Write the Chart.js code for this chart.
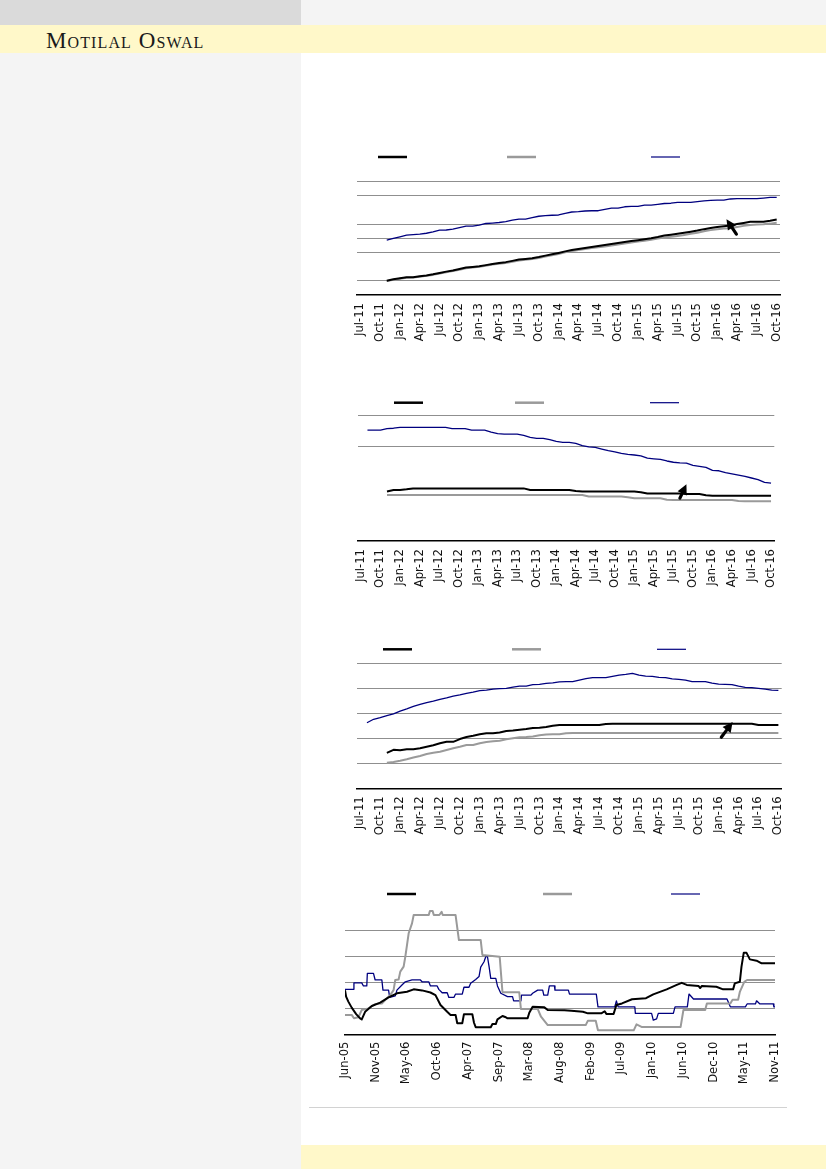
<!DOCTYPE html>
<html><head><meta charset="utf-8">
<script src="https://cdn.jsdelivr.net/npm/chart.js@4/dist/chart.umd.min.js"></script>
<style>
html,body{margin:0;padding:0;}
body{width:826px;height:1169px;position:relative;background:#fff;overflow:hidden;}
#side{position:absolute;left:0;top:0;width:301px;height:1169px;background:#f4f4f4;}
#topL{position:absolute;left:0;top:0;width:301px;height:25px;background:#dadada;}
#topR{position:absolute;left:301px;top:0;width:525px;height:25px;background:#f4f4f4;}
#band{position:absolute;left:0;top:25px;width:826px;height:28px;background:#fff8c9;}
#brand{position:absolute;left:46px;top:29.5px;line-height:22px;font-family:'Liberation Serif',serif;font-variant:small-caps;font-size:23px;color:#1a1a1a;letter-spacing:1.1px;white-space:nowrap;}
#foot{position:absolute;left:301px;top:1145px;width:525px;height:24px;background:#fff8c9;}
#rule{position:absolute;left:309px;top:1107px;width:478px;height:1px;background:#d2d2d2;}
canvas{position:absolute;}
</style></head>
<body>
<div id="side"></div><div id="topL"></div><div id="topR"></div>
<div id="band"></div><div id="brand">Motilal Oswal</div>
<div id="foot"></div><div id="rule"></div>
<canvas id="c1"></canvas><canvas id="c2"></canvas><canvas id="c3"></canvas><canvas id="c4"></canvas>
<script>
// ---------- DATA ----------
const MONTH_ABBR = ['Jan','Feb','Mar','Apr','May','Jun','Jul','Aug','Sep','Oct','Nov','Dec'];
// monthly categories Jul-11 .. Oct-16 (64 months)
const months = [];
for (let k = 0; k < 64; k++) { const mm = (6 + k) % 12, yy = 11 + Math.floor((6 + k) / 12); months.push(MONTH_ABBR[mm] + '-' + String(yy).padStart(2,'0')); }

// Chart 1
const c1Black = [null,null,null,null,
 1.01,1.11,1.18,1.25,1.25,1.33,1.38,1.46,1.56,1.65,
 1.73,1.83,1.94,1.98,2.03,2.11,2.19,2.26,2.32,2.41,
 2.50,2.55,2.60,2.68,2.78,2.87,2.97,3.08,3.17,3.25,
 3.32,3.39,3.46,3.53,3.60,3.67,3.74,3.81,3.87,3.93,
 4.00,4.09,4.20,4.26,4.32,4.39,4.47,4.55,4.65,4.73,
 4.80,4.85,4.91,5.01,5.09,5.17,5.17,5.17,5.24,5.33];
const c1Gray = [null,null,null,null,
 0.98,1.07,1.14,1.21,1.23,1.29,1.35,1.42,1.52,1.61,
 1.69,1.79,1.89,1.94,1.99,2.07,2.15,2.20,2.26,2.35,
 2.43,2.49,2.54,2.62,2.71,2.80,2.90,3.01,3.10,3.18,
 3.25,3.32,3.37,3.43,3.50,3.57,3.64,3.71,3.77,3.83,
 3.90,3.98,4.06,4.11,4.17,4.24,4.32,4.40,4.50,4.58,
 4.65,4.70,4.72,4.80,4.88,4.95,4.98,5.00,5.04,5.10];
const c1Blue = [null,null,null,null,
 3.88,4.00,4.11,4.23,4.27,4.30,4.36,4.46,4.58,4.59,
 4.65,4.76,4.86,4.87,4.94,5.05,5.08,5.12,5.18,5.29,
 5.36,5.36,5.46,5.56,5.60,5.63,5.65,5.77,5.86,5.88,
 5.93,5.95,5.95,6.04,6.14,6.14,6.23,6.26,6.26,6.34,
 6.35,6.40,6.46,6.48,6.54,6.54,6.54,6.60,6.65,6.68,
 6.70,6.70,6.78,6.80,6.80,6.80,6.80,6.84,6.89,6.89];
const c1Arrow = [56.9, 4.30, 55.4, 5.34];

// Chart 2
const c2Black = [null,null,null,null,
 1.57,1.62,1.62,1.64,1.67,1.67,1.67,1.67,1.67,1.67,
 1.67,1.67,1.67,1.67,1.67,1.67,1.67,1.67,1.67,1.67,
 1.67,1.67,1.62,1.62,1.62,1.62,1.62,1.62,1.62,1.59,
 1.57,1.57,1.57,1.57,1.57,1.57,1.57,1.57,1.57,1.55,
 1.51,1.51,1.51,1.51,1.51,1.51,1.49,1.49,1.49,1.45,
 1.44,1.44,1.44,1.44,1.44,1.44,1.44,1.44,1.44,1.44];
const c2Gray = [null,null,null,null,
 1.46,1.46,1.46,1.46,1.46,1.46,1.46,1.46,1.46,1.46,
 1.46,1.46,1.46,1.46,1.46,1.46,1.46,1.46,1.46,1.46,
 1.46,1.46,1.46,1.46,1.46,1.46,1.46,1.46,1.46,1.46,
 1.46,1.41,1.41,1.41,1.41,1.41,1.41,1.39,1.36,1.36,
 1.36,1.36,1.36,1.31,1.30,1.30,1.30,1.30,1.30,1.30,
 1.30,1.30,1.30,1.30,1.27,1.26,1.26,1.26,1.26,1.26];
const c2Blue = [null,
 3.52,3.52,3.52,3.57,3.58,3.61,3.61,3.61,3.61,3.61,
 3.61,3.61,3.61,3.57,3.57,3.57,3.52,3.52,3.52,3.46,
 3.41,3.39,3.39,3.39,3.35,3.29,3.26,3.26,3.22,3.16,
 3.13,3.13,3.10,3.03,2.99,2.97,2.92,2.87,2.83,2.78,
 2.75,2.73,2.70,2.63,2.61,2.59,2.54,2.50,2.48,2.47,
 2.40,2.37,2.34,2.24,2.23,2.17,2.13,2.09,2.05,2.00,
 1.95,1.86,1.84];
const c2Arrow = [49.0, 1.36, 50.0, 1.80];

// Chart 3
const c3Black = [null,null,null,null,
 1.42,1.54,1.52,1.56,1.56,1.60,1.66,1.72,1.80,1.86,
 1.86,1.97,2.05,2.10,2.16,2.20,2.20,2.23,2.29,2.31,
 2.34,2.37,2.41,2.42,2.45,2.50,2.53,2.53,2.53,2.53,
 2.53,2.53,2.53,2.57,2.58,2.58,2.58,2.58,2.58,2.58,
 2.58,2.58,2.58,2.58,2.58,2.58,2.58,2.58,2.58,2.58,
 2.58,2.58,2.58,2.58,2.58,2.58,2.53,2.53,2.53,2.53];
const c3Gray = [null,null,null,null,
 1.02,1.05,1.10,1.16,1.23,1.29,1.37,1.42,1.46,1.53,
 1.60,1.66,1.73,1.73,1.80,1.85,1.88,1.90,1.96,2.00,
 2.04,2.05,2.07,2.12,2.15,2.16,2.16,2.20,2.21,2.21,
 2.21,2.21,2.21,2.21,2.21,2.21,2.21,2.21,2.21,2.21,
 2.21,2.21,2.21,2.21,2.21,2.21,2.21,2.21,2.21,2.21,
 2.21,2.21,2.21,2.21,2.21,2.21,2.21,2.21,2.21,2.21];
const c3Blue = [null,
 2.62,2.76,2.83,2.91,2.98,3.09,3.18,3.28,3.36,3.43,
 3.49,3.56,3.62,3.69,3.74,3.80,3.85,3.91,3.93,3.97,
 3.99,4.00,4.05,4.09,4.09,4.15,4.16,4.20,4.22,4.26,
 4.27,4.27,4.33,4.39,4.43,4.43,4.43,4.48,4.53,4.56,
 4.60,4.53,4.49,4.48,4.44,4.43,4.38,4.36,4.33,4.27,
 4.27,4.27,4.21,4.17,4.16,4.15,4.09,4.04,4.03,4.00,
 3.97,3.93,3.92];
const c3Arrow = [54.4, 2.04, 56.1, 2.65];

// Chart 4 (x = months after Jun-05, y = value)
const c4Black = [[0,1.72],[0.2,1.47],[0.6,1.28],[1.2,1.05],[2.0,0.8],[2.7,0.64],[3.0,0.6],[3.6,0.89],[4.8,1.11],[6.3,1.24],[7.8,1.44],[9.3,1.60],[11.1,1.66],[12.3,1.75],[13.8,1.71],[15.3,1.63],[16.2,1.53],[17.1,1.15],[18.3,0.89],[18.9,0.77],[19.8,0.77],[20.1,0.45],[21.0,0.45],[21.3,0.8],[22.8,0.8],[23.1,0.47],[23.4,0.30],[26.1,0.30],[26.4,0.42],[27.0,0.42],[27.3,0.60],[28.2,0.73],[28.8,0.68],[29.1,0.64],[32.7,0.64],[33.0,0.85],[33.6,1.08],[35.7,1.06],[36.3,0.96],[39.3,0.95],[40.5,0.93],[42.6,0.89],[43.5,0.83],[45.9,0.83],[46.5,0.91],[46.8,0.81],[48.1,0.81],[48.6,1.15],[49.6,1.21],[51.4,1.37],[53.9,1.41],[55.2,1.56],[57.6,1.75],[59.4,1.92],[60.3,2.0],[61.2,1.92],[63.3,1.88],[63.6,1.80],[63.9,1.88],[66.5,1.85],[67.7,1.75],[69.5,1.75],[69.8,1.98],[70.7,2.04],[71.0,2.62],[71.4,3.15],[71.9,3.15],[72.5,2.90],[73.7,2.85],[74.6,2.75],[77,2.75]];
const c4Gray = [[0,0.77],[1.2,0.77],[1.6,0.64],[2.4,0.68],[3.0,0.96],[4.2,1.02],[5.4,1.19],[6.6,1.21],[7.2,1.34],[8.1,1.53],[8.7,1.72],[9.0,2.11],[9.6,2.13],[9.9,2.43],[10.5,2.62],[10.8,3.0],[11.1,3.45],[11.4,3.9],[12.0,4.28],[12.3,4.6],[15.0,4.6],[15.2,4.75],[15.7,4.75],[15.9,4.6],[16.9,4.6],[17.3,4.72],[17.5,4.6],[19.8,4.6],[20.4,3.64],[24.3,3.64],[24.6,3.07],[27.7,3.0],[28.2,1.64],[31.2,1.64],[31.5,1.0],[34.5,1.0],[35.1,0.7],[36.3,0.38],[43.1,0.38],[43.5,0.55],[44.9,0.55],[45.3,0.18],[51.7,0.18],[52.2,0.41],[53.1,0.31],[60.1,0.31],[60.6,0.96],[64.5,0.96],[64.8,1.21],[69.0,1.21],[69.4,1.35],[70.4,1.35],[70.7,1.65],[71.5,2.04],[72.0,2.11],[77,2.11]];
const c4Blue = [[0,1.75],[1.5,1.75],[1.6,2.0],[3.0,2.0],[3.3,1.88],[3.9,1.88],[4.0,2.36],[5.1,2.36],[5.4,2.11],[6.6,2.11],[6.8,1.72],[7.8,1.72],[8.0,1.44],[9.0,1.50],[9.3,1.72],[10.2,1.92],[10.8,2.04],[12.0,2.11],[13.5,2.11],[13.8,2.04],[15.0,2.04],[15.3,1.88],[16.5,1.88],[16.8,1.75],[17.4,1.62],[18.3,1.62],[18.6,1.44],[19.5,1.44],[19.8,1.57],[21.0,1.57],[21.3,1.83],[22.2,1.83],[22.5,1.98],[23.4,2.13],[24.0,2.24],[24.3,2.6],[24.9,2.81],[25.2,3.0],[25.5,3.02],[25.8,2.62],[26.1,2.17],[27.0,2.17],[27.3,1.88],[27.9,1.60],[29.1,1.47],[30.0,1.47],[30.2,1.31],[31.5,1.31],[31.6,1.53],[33.3,1.53],[33.6,1.60],[34.5,1.72],[35.4,1.72],[35.6,1.53],[36.3,1.53],[36.6,1.88],[37.5,1.88],[37.6,1.72],[40.0,1.72],[40.2,1.57],[45.0,1.57],[45.3,1.08],[48.3,1.08],[48.6,1.31],[48.9,1.08],[51.9,1.08],[52.0,0.83],[54.9,0.83],[55.2,0.57],[55.8,0.62],[56.1,0.83],[58.8,0.83],[59.1,1.08],[61.3,1.08],[61.6,1.57],[62.4,1.38],[68.4,1.38],[69.0,1.08],[71.7,1.08],[72.0,1.19],[73.5,1.19],[73.7,1.31],[74.3,1.19],[76.7,1.19],[76.8,1.08],[77,1.08]];
const c4TickStep = 5.5;   // months between x labels
const c4Start = {year: 2005, month: 5}; // Jun-05

// ---------- STYLES ----------
const BLACK = '#000000', GRAY = '#9a9a9a', BLUE = '#00007f', GRID = '#8f8f8f';

// ---------- PLUGINS ----------
const lineLegend = {
  id: 'lineLegend',
  afterDraw(chart, args, o) {
    if (!o.offsets) return;
    const ctx = chart.ctx, a = chart.chartArea;
    ctx.save();
    chart.data.datasets.forEach((ds, k) => {
      const x = a.left + o.offsets[k], y = a.top - o.dy;
      ctx.beginPath();
      ctx.strokeStyle = ds.borderColor;
      ctx.lineWidth = o.widths[k];
      ctx.moveTo(x, y); ctx.lineTo(x + o.len, y);
      ctx.stroke();
    });
    ctx.restore();
  }
};
const arrowNote = {
  id: 'arrowNote',
  afterDatasetsDraw(chart, args, o) {
    if (!o.pts) return;
    const xs = chart.scales.x, ys = chart.scales.y, ctx = chart.ctx;
    const x1 = xs.getPixelForValue(o.pts[0]), y1 = ys.getPixelForValue(o.pts[1]);
    const x2 = xs.getPixelForValue(o.pts[2]), y2 = ys.getPixelForValue(o.pts[3]);
    const ang = Math.atan2(y2 - y1, x2 - x1), hl = 10, hw = 5;
    const bx = x2 - hl * Math.cos(ang), by = y2 - hl * Math.sin(ang);
    ctx.save();
    ctx.strokeStyle = '#000'; ctx.fillStyle = '#000'; ctx.lineWidth = 3.2; ctx.lineCap = 'round';
    ctx.beginPath(); ctx.moveTo(x1, y1); ctx.lineTo(bx, by); ctx.stroke();
    ctx.beginPath();
    ctx.moveTo(x2, y2);
    ctx.lineTo(bx + hw * Math.sin(ang), by - hw * Math.cos(ang));
    ctx.lineTo(bx - hw * Math.sin(ang), by + hw * Math.cos(ang));
    ctx.closePath(); ctx.fill();
    ctx.restore();
  }
};

// ---------- BUILD ----------
const CANVAS_LEFT = 300, CANVAS_W = 526;
function build(id, geo, data, xScale, yMax, hidden, legendOpts, arrow, tickGap, tickSize) {
  const cv = document.getElementById(id);
  const top = Math.floor(geo.top - 50), bottom = Math.ceil(geo.bottom + 60);
  const H = bottom - top;
  cv.width = CANVAS_W; cv.height = H;
  cv.style.left = CANVAS_LEFT + 'px'; cv.style.top = top + 'px';
  cv.style.width = CANVAS_W + 'px'; cv.style.height = H + 'px';
  const xH = H - (geo.bottom - top);
  xScale.grid = {display: false, drawTicks: false};
  xScale.border = {display: true, color: '#000', width: 1.5};
  xScale.ticks = Object.assign({autoSkip: false, maxRotation: 90, minRotation: 90, padding: tickGap,
    font: {family: 'DejaVu Sans', size: tickSize}, color: '#111'}, xScale.ticks || {});
  xScale.afterFit = s => { s.height = xH; s.paddingLeft = 0; s.paddingRight = 0; };
  new Chart(cv, {
    type: 'line',
    data: data,
    options: {
      responsive: false, animation: false, devicePixelRatio: 1,
      layout: {padding: {left: geo.left - CANVAS_LEFT, right: CANVAS_LEFT + CANVAS_W - geo.right, top: geo.top - top, bottom: 0}},
      plugins: {legend: {display: false}, tooltip: {enabled: false}, lineLegend: legendOpts, arrowNote: {pts: arrow}},
      elements: {point: {radius: 0}, line: {tension: 0, borderJoinStyle: 'round'}},
      scales: {
        x: xScale,
        y: {min: 0, max: yMax, ticks: {display: false, stepSize: 1},
            grid: {drawTicks: false, lineWidth: 1, color: c => hidden.includes(c.tick.value) ? 'rgba(0,0,0,0)' : GRID},
            border: {display: false}, afterFit: s => { s.width = 0; }}
      }
    },
    plugins: [lineLegend, arrowNote]
  });
}
function ds3(b, g, u) {
  return [
    {data: b, borderColor: BLACK, borderWidth: 2},
    {data: g, borderColor: GRAY, borderWidth: 2},
    {data: u, borderColor: BLUE, borderWidth: 1.3}
  ];
}
const monthlyX = () => ({type: 'category', offset: true,
  ticks: {callback: function(v, i) { return i % 3 === 0 ? this.getLabelForValue(v) : ''; }}});
const legW = [2.5, 2.5, 1.2];

build('c1', {left: 357, right: 780, top: 181.7, bottom: 295},
  {labels: months, datasets: ds3(c1Black, c1Gray, c1Blue)}, monthlyX(), 8, [0, 2, 6],
  {offsets: [21, 150, 294], dy: 24.7, len: 29, widths: legW}, c1Arrow, 8, 11.6);
build('c2', {left: 357.7, right: 774.3, top: 415, bottom: 541},
  {labels: months, datasets: ds3(c2Black, c2Gray, c2Blue)}, monthlyX(), 4, [0, 1, 2],
  {offsets: [36.3, 157.3, 292.3], dy: 12.3, len: 29, widths: legW}, c2Arrow, 8, 11.6);
build('c3', {left: 357, right: 781.7, top: 663.3, bottom: 788.3},
  {labels: months, datasets: ds3(c3Black, c3Gray, c3Blue)}, monthlyX(), 5, [0],
  {offsets: [26, 155, 300], dy: 14, len: 29, widths: legW}, c3Arrow, 8, 11.6);

const toXY = arr => arr.map(p => ({x: p[0], y: p[1]}));
build('c4', {left: 345, right: 775, top: 904.6, bottom: 1035},
  {datasets: ds3(toXY(c4Black), toXY(c4Gray), toXY(c4Blue))},
  {type: 'linear', min: 0, max: 77,
   ticks: {stepSize: c4TickStep, callback: v => {
     const m = Math.floor(v + 1e-6) + c4Start.month;
     return MONTH_ABBR[m % 12] + '-' + String((c4Start.year + Math.floor(m / 12)) % 100).padStart(2, '0');
   }}},
  5, [0, 5], {offsets: [42, 198, 326], dy: 10.6, len: 29, widths: legW}, null, 6.5, 11.6);
</script>
</body></html>
